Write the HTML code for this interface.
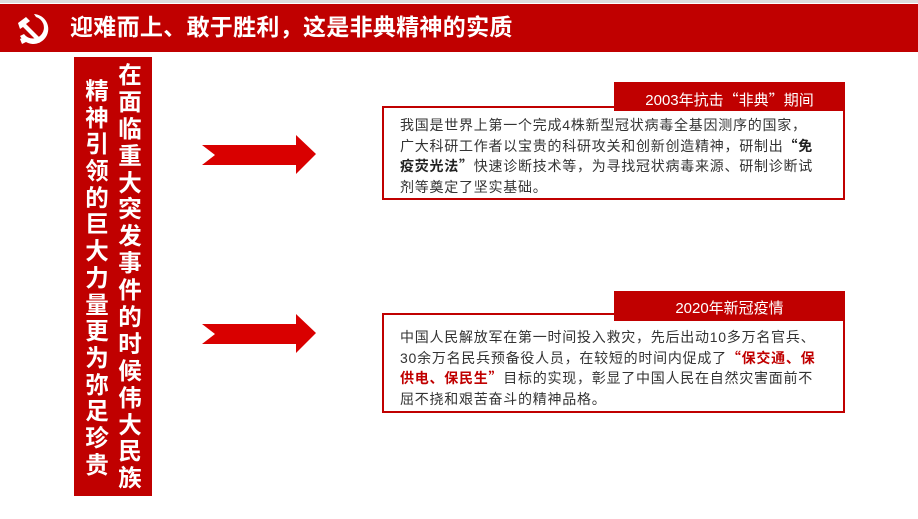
<!DOCTYPE html>
<html><head><meta charset="utf-8"><style>
body{margin:0;width:918px;height:519px;background:#fff;position:relative;overflow:hidden;font-family:"Liberation Sans","Noto Sans CJK SC",sans-serif}
.hdr{position:absolute;left:0;top:4px;width:918px;height:48px;background:#c00000}
.topline{position:absolute;left:0;top:0;width:918px;height:3px;background:#ddd}
.title{position:absolute;left:70px;top:9px;color:#fff;font-size:23px;font-weight:bold;line-height:36px;letter-spacing:0.3px}
.vp{position:absolute;left:74px;top:57px;width:78px;height:439px;background:#c00000}
.col{position:absolute;color:#fff;font-size:23.5px;font-weight:bold;width:26px;text-align:center}
.col span{display:block;height:26.9px;line-height:26.9px}
.col.l span{height:26.7px;line-height:26.7px}
.box{position:absolute;left:382px;width:459px;border:2px solid #c00000;}
.tab{position:absolute;left:614px;width:231px;background:#c00000;color:#fff;font-size:15px;text-align:center}
.txt{position:absolute;left:400px;font-size:14px;line-height:20.5px;color:#333;letter-spacing:0.75px;white-space:nowrap}
.q{font-family:"Noto Sans CJK SC",sans-serif}
b{color:#222}
.r{color:#c00000;font-weight:bold}
</style></head><body>
<div class="topline"></div>
<div class="hdr"></div>
<svg style="position:absolute;left:14px;top:11px" width="40" height="36" viewBox="0 0 40 36">
<path d="M20 3 A15 15 0 1 1 6 25 L10 23 A11 11 0 1 0 22 6 Z" fill="#fff"/>
<path d="M4 12 L12 6 L16 10 L12 13 L28 29 L25 32 L9 16 L6 18 Z" fill="#fff"/>
<path d="M6 28 L10 26 L14 30 L8 33 Z" fill="#fff"/>
</svg>
<div class="title">迎难而上、敢于胜利，这是非典精神的实质</div>
<div class="vp"></div>
<div class="col" style="left:117px;top:62px"><span>在</span><span>面</span><span>临</span><span>重</span><span>大</span><span>突</span><span>发</span><span>事</span><span>件</span><span>的</span><span>时</span><span>候</span><span>伟</span><span>大</span><span>民</span><span>族</span></div>
<div class="col l" style="left:84px;top:78px"><span>精</span><span>神</span><span>引</span><span>领</span><span>的</span><span>巨</span><span>大</span><span>力</span><span>量</span><span>更</span><span>为</span><span>弥</span><span>足</span><span>珍</span><span>贵</span></div>
<svg style="position:absolute;left:200px;top:133px" width="120" height="44"><polygon points="2,12 96,12 96,2 116,21 96,41 96,32 2,32 15,22" fill="#d90000"/></svg>
<svg style="position:absolute;left:200px;top:312px" width="120" height="44"><polygon points="2,12 96,12 96,2 116,21 96,41 96,32 2,32 15,22" fill="#d90000"/></svg>
<div class="box" style="top:106px;height:90px"></div>
<div class="tab" style="top:82px;height:29px;line-height:36px">2003年抗击<span class="q">“</span>非典<span class="q">”</span>期间</div>
<div class="txt" style="top:115px">我国是世界上第一个完成4株新型冠状病毒全基因测序的国家，<br>广大科研工作者以宝贵的科研攻关和创新创造精神，研制出<b><span class="q">“</span>免<br>疫荧光法<span class="q">”</span></b>快速诊断技术等，为寻找冠状病毒来源、研制诊断试<br>剂等奠定了坚实基础。</div>
<div class="box" style="top:313px;height:96px"></div>
<div class="tab" style="top:291px;height:30px;line-height:36px">2020年新冠疫情</div>
<div class="txt" style="top:327px">中国人民解放军在第一时间投入救灾，先后出动10多万名官兵、<br>30余万名民兵预备役人员，在较短的时间内促成了<span class="r"><span class="q">“</span>保交通、保<br>供电、保民生<span class="q">”</span></span>目标的实现，彰显了中国人民在自然灾害面前不<br>屈不挠和艰苦奋斗的精神品格。</div>
</body></html>
